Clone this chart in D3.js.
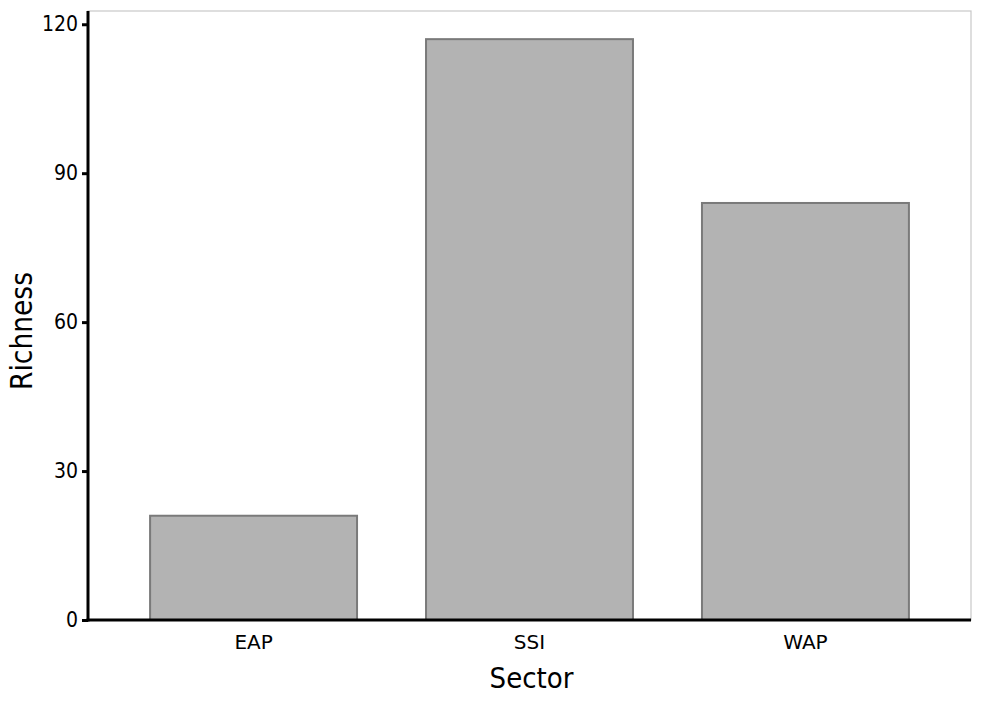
<!DOCTYPE html>
<html>
<head>
<meta charset="utf-8">
<script src="https://cdn.jsdelivr.net/npm/d3@7"></script>
<style>
  html, body { margin: 0; padding: 0; background: #fff; }
  svg { display: block; }
</style>
</head>
<body>
<div id="chart"></div>
<script>
const categories = ["EAP", "SSI", "WAP"];
const richness = [21, 117, 84];
const yTicks = [0, 30, 60, 90, 120];
const xTitle = "Sector";
const yTitle = "Richness";

const W = 986, H = 723;
const margin = {top: 11, right: 15, bottom: 103, left: 88};
const iw = W - margin.left - margin.right;
const ih = H - margin.top - margin.bottom;

const svg = d3.select("#chart").append("svg")
  .attr("width", W).attr("height", H);

const g = svg.append("g").attr("transform", `translate(${margin.left},${margin.top})`);

const x = d3.scaleBand().domain(categories).range([0, iw])
  .paddingInner(0.25).paddingOuter(0.225);
const y = d3.scaleLinear().domain([0, 122.67]).range([ih, 0]);

// panel border (top/right light grey)
g.append("rect").attr("x", 0).attr("y", 0).attr("width", iw).attr("height", ih)
  .attr("fill", "none").attr("stroke", "#c8c8c8").attr("stroke-width", 1.2);

// bars
g.selectAll("rect.bar").data(categories).join("rect")
  .attr("class", "bar")
  .attr("x", d => x(d))
  .attr("width", x.bandwidth())
  .attr("y", (d, i) => y(richness[i]))
  .attr("height", (d, i) => y(0) - y(richness[i]))
  .attr("fill", "#b3b3b3")
  .attr("stroke", "#7a7a7a")
  .attr("stroke-width", 2);

// y axis
const yAxis = g.append("g")
  .call(d3.axisLeft(y).tickValues(yTicks).tickSize(6).tickPadding(4).tickSizeOuter(0));
yAxis.select(".domain").remove();
yAxis.selectAll(".tick line").attr("stroke", "#000").attr("stroke-width", 3);
yAxis.selectAll(".tick text")
  .attr("fill", "#000")
  .style("font-family", "'DejaVu Sans Condensed', 'DejaVu Sans', sans-serif")
  .style("font-size", "21px");

// x axis
const xAxis = g.append("g").attr("transform", `translate(0,${ih})`)
  .call(d3.axisBottom(x).tickSize(0).tickPadding(15));
xAxis.select(".domain").remove();
xAxis.selectAll(".tick text")
  .attr("fill", "#000")
  .style("font-family", "'DejaVu Sans', sans-serif")
  .style("font-size", "20px");

// axis lines (black, thick)
g.append("line").attr("x1", 0).attr("x2", 0).attr("y1", 0).attr("y2", ih + 1.5)
  .attr("stroke", "#000").attr("stroke-width", 3);
g.append("line").attr("x1", -1.5).attr("x2", iw).attr("y1", ih).attr("y2", ih)
  .attr("stroke", "#000").attr("stroke-width", 3);

// titles
svg.append("text")
  .attr("x", margin.left + iw / 2 + 2).attr("y", 688)
  .attr("text-anchor", "middle")
  .style("font-family", "'DejaVu Sans Condensed', 'DejaVu Sans', sans-serif")
  .style("font-size", "29px")
  .text(xTitle);

svg.append("text")
  .attr("transform", `translate(32,331) rotate(-90)`)
  .attr("text-anchor", "middle")
  .style("font-family", "'DejaVu Sans Condensed', 'DejaVu Sans', sans-serif")
  .style("font-size", "29.5px")
  .text(yTitle);
</script>
</body>
</html>
